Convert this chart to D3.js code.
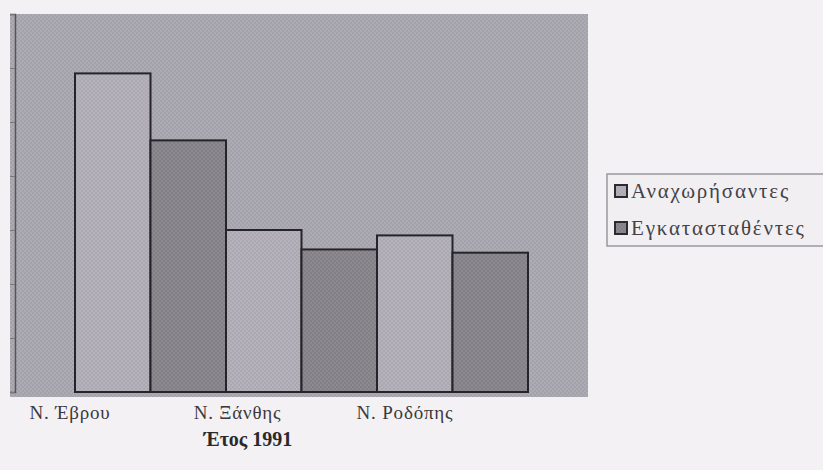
<!DOCTYPE html>
<html>
<head>
<meta charset="utf-8">
<script src="https://cdn.jsdelivr.net/npm/d3@7"></script>
<style>
  body { margin: 0; background: #f3f1f3; }
  svg { display: block; }
  text { font-family: 'Liberation Serif', 'DejaVu Serif', serif; }
</style>
</head>
<body>
<svg width="823" height="470"></svg>
<script>
var categories = ["Ν. Έβρου", "Ν. Ξάνθης", "Ν. Ροδόπης"];
var seriesNames = ["Αναχωρήσαντες", "Εγκατασταθέντες"];
var departed = [2950, 1500, 1450];
var settled = [2330, 1320, 1290];
var yTicks = [0, 500, 1000, 1500, 2000, 2500, 3000, 3500];
var title = "Έτος 1991";

var svg = d3.select("svg"),
  width = +svg.attr("width"),
  height = +svg.attr("height");

var colors = ["#b6b2bb", "#8c8990"];

// halftone-ish textures
var defs = svg.append("defs");
function texture(id, base, dot) {
  var p = defs.append("pattern")
    .attr("id", id)
    .attr("width", 4).attr("height", 4)
    .attr("patternUnits", "userSpaceOnUse");
  p.append("rect").attr("width", 4).attr("height", 4).attr("fill", base);
  p.append("rect").attr("x", 0).attr("y", 0).attr("width", 2).attr("height", 2).attr("fill", dot).attr("opacity", 0.35);
  p.append("rect").attr("x", 2).attr("y", 2).attr("width", 2).attr("height", 2).attr("fill", dot).attr("opacity", 0.35);
}
texture("bg", "#adacb4", "#8e8d94");
texture("s0", colors[0], "#99959e");
texture("s1", colors[1], "#6f6c73");

var plot = {left: 10, top: 14, right: 588, bottom: 397};
var baseY = 392;

var y = d3.scaleLinear()
  .domain([0, 3500])
  .range([baseY, plot.top]);

var x0 = d3.scaleBand()
  .domain(categories)
  .range([75, 528])
  .padding(0);

var x1 = d3.scaleBand()
  .domain(seriesNames)
  .range([0, x0.bandwidth()])
  .padding(0);

var labelX = d3.scalePoint()
  .domain(categories)
  .range([70, 405]);

// plot area
svg.append("rect")
  .attr("x", plot.left)
  .attr("y", plot.top)
  .attr("width", plot.right - plot.left)
  .attr("height", plot.bottom - plot.top)
  .attr("fill", "url(#bg)");

// y axis with ticks but no labels
var yAxis = svg.append("g")
  .attr("transform", "translate(15,0)")
  .call(d3.axisLeft(y).tickValues(yTicks).tickSize(5).tickFormat(""));
yAxis.select(".domain").attr("stroke", "#555").attr("stroke-width", 1.5);
yAxis.selectAll(".tick line").attr("stroke", "#777");

var rows = categories.map(function(c, i) {
  return {cat: c, values: [departed[i], settled[i]]};
});

var group = svg.selectAll(".grp")
  .data(rows)
  .enter().append("g")
  .attr("class", "grp")
  .attr("transform", function(d) { return "translate(" + x0(d.cat) + ",0)"; });

group.selectAll("rect")
  .data(function(d) {
    return d.values.map(function(v, j) { return {key: seriesNames[j], value: v, j: j}; });
  })
  .enter().append("rect")
  .attr("x", function(d) { return x1(d.key); })
  .attr("y", function(d) { return y(d.value); })
  .attr("width", x1.bandwidth())
  .attr("height", function(d) { return y(0) - y(d.value); })
  .attr("fill", function(d) { return "url(#s" + d.j + ")"; })
  .attr("stroke", "#252428")
  .attr("stroke-width", 2);

// category labels
svg.selectAll(".cat")
  .data(categories)
  .enter().append("text")
  .attr("class", "cat")
  .attr("x", function(d) { return labelX(d); })
  .attr("y", 419)
  .attr("text-anchor", "middle")
  .attr("font-size", 19)
  .attr("letter-spacing", 0.8)
  .attr("fill", "#3a393d")
  .text(function(d) { return d; });

svg.append("text")
  .attr("x", 248)
  .attr("y", 446)
  .attr("text-anchor", "middle")
  .attr("font-weight", "bold")
  .attr("font-size", 20)
  .attr("fill", "#2a292c")
  .text(title);

// legend
var legend = svg.append("g").attr("transform", "translate(607,174)");
legend.append("rect")
  .attr("width", 230)
  .attr("height", 72)
  .attr("fill", "#f1eff2")
  .attr("stroke", "#9a989d")
  .attr("stroke-width", 1.5);

var item = legend.selectAll(".item")
  .data(seriesNames)
  .enter().append("g")
  .attr("class", "item")
  .attr("transform", function(d, i) { return "translate(8," + (11 + i * 37) + ")"; });

item.append("rect")
  .attr("width", 12)
  .attr("height", 12)
  .attr("fill", function(d, i) { return "url(#s" + i + ")"; })
  .attr("stroke", "#2b2a2e")
  .attr("stroke-width", 2);

item.append("text")
  .attr("x", 16)
  .attr("y", 13)
  .attr("font-size", 21)
  .attr("letter-spacing", 1.8)
  .attr("fill", "#444247")
  .text(function(d) { return d; });
</script>
</body>
</html>
